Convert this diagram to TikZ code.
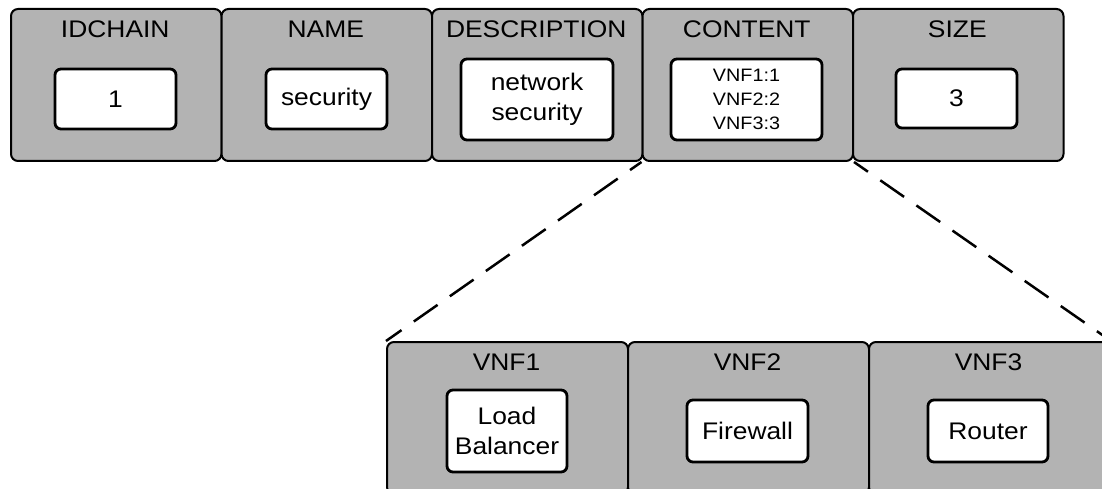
\documentclass[tikz,border=0pt]{standalone}
\usepackage{fontspec}
\setmainfont{Liberation Sans}[FakeStretch=1.1]
\definecolor{fieldgray}{RGB}{179,179,179}
\tikzset{
  field/.style={draw=black, line width=2pt, fill=fieldgray, rounded corners=7pt,
    minimum width=210.5pt, minimum height=152pt, inner sep=0pt, anchor=north west},
  subfield/.style={field, minimum width=241pt},
  fieldtitle/.style={font=\fontsize{24}{28}\selectfont, inner sep=0pt, anchor=base},
  valuebox/.style={draw=black, line width=2.8pt, fill=white, rounded corners=6pt,
    inner sep=0pt, align=center, font=\fontsize{24}{30}\selectfont},
  link/.style={line width=2.5pt, dash pattern=on 29pt off 15pt},
}
\begin{document}
\begin{tikzpicture}[x=1pt, y=-1pt]
  \clip (0,0) rectangle (1102,489);
  \fill[white] (0,0) rectangle (1102,489);

  % record fields of the chain
  \node[field] (idchain) at (10,8) {};
  \node[field] (name)    at (220.5,8) {};
  \node[field] (descr)   at (431,8) {};
  \node[field] (content) at (641.5,8) {};
  \node[field] (size)    at (852,8) {};

  \node[fieldtitle] (tidchain) at (115.25,37.5) {IDCHAIN};
  \node[fieldtitle] (tname)    at (325.75,37.5) {NAME};
  \node[fieldtitle] (tdescr)   at (536.25,37.5) {DESCRIPTION};
  \node[fieldtitle] (tcontent) at (746.75,37.5) {CONTENT};
  \node[fieldtitle] (tsize)    at (957.25,37.5) {SIZE};

  \node[valuebox, minimum width=121pt, minimum height=60pt] (vidchain) at (115.5,99) {1};
  \node[valuebox, minimum width=121pt, minimum height=60pt] (vname) at (326.5,99) {security};
  \node[valuebox, minimum width=152pt, minimum height=81pt] (vdescr) at (537,99.5) {network\\security};
  \node[valuebox, minimum width=151pt, minimum height=81pt,
        font=\fontsize{18}{23.7}\selectfont] (vcontent) at (746.5,99.5) {VNF1:1\\VNF2:2\\VNF3:3};
  \node[valuebox, minimum width=121pt, minimum height=59pt] (vsize) at (956.5,98.5) {3};

  % expanded content: the network functions
  \node[subfield] (vnf1) at (386,341) {};
  \node[subfield] (vnf2) at (627,341) {};
  \node[subfield] (vnf3) at (868,341) {};

  \node[fieldtitle] (tvnf1) at (506.5,370.5) {VNF1};
  \node[fieldtitle] (tvnf2) at (747.5,370.5) {VNF2};
  \node[fieldtitle] (tvnf3) at (988.5,370.5) {VNF3};

  \node[valuebox, minimum width=120pt, minimum height=82pt] (fvnf1) at (507,431) {Load\\Balancer};
  \node[valuebox, minimum width=121pt, minimum height=62pt] (fvnf2) at (747.5,431) {Firewall};
  \node[valuebox, minimum width=120pt, minimum height=62pt] (fvnf3) at (988,431) {Router};

  % zoom lines from the content field
  \draw[link, dash phase=15pt] (content.south west) -- (vnf1.north west);
  \draw[link, dash phase=12pt] (content.south east) -- (vnf3.north east);
\end{tikzpicture}
\end{document}
